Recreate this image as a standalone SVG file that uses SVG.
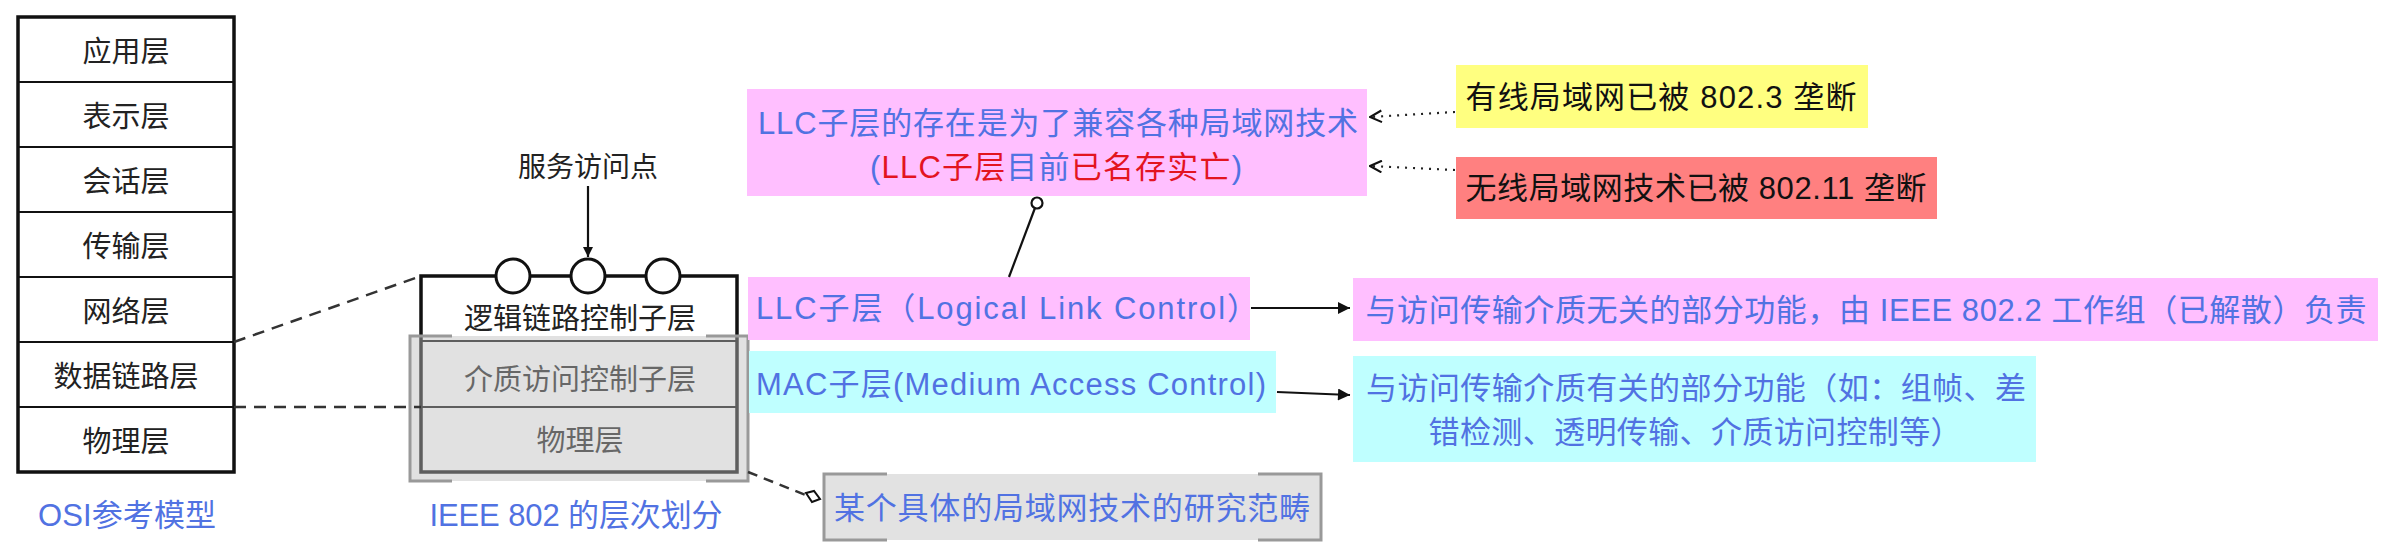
<svg xmlns="http://www.w3.org/2000/svg" width="2399" height="550" viewBox="0 0 2399 550">
<style>
text{font-family:"Liberation Sans","Noto Sans CJK SC",sans-serif;dominant-baseline:central;text-anchor:middle}
.osi{font-size:29px;fill:#222;font-family:"Noto Sans CJK SC",sans-serif}
.blue{fill:#5172e2}
.red{fill:#e3141f}
.blk{fill:#111}
.t31{font-size:31px}
.cell{fill:none;stroke:#111;stroke-width:2}
.dash{fill:none;stroke:#333;stroke-width:2.5;stroke-dasharray:12 8}
.dot{fill:none;stroke:#222;stroke-width:2.2;stroke-dasharray:2 6}
.solid{fill:none;stroke:#111;stroke-width:2.2}
.bracket{fill:none;stroke:#999;stroke-width:3}
</style>
<defs>
<marker id="fa" viewBox="0 0 10 10" refX="10" refY="5" markerWidth="16" markerHeight="12" markerUnits="userSpaceOnUse" orient="auto"><path d="M0,0 L10,5 L0,10 z" fill="#111"/></marker>
<marker id="fn" viewBox="0 0 10 10" refX="10" refY="5" markerWidth="20" markerHeight="10" markerUnits="userSpaceOnUse" orient="auto"><path d="M0,0 L10,5 L0,10 z" fill="#111"/></marker>
<marker id="oa" viewBox="0 0 12 12" refX="11" refY="6" markerWidth="14" markerHeight="14" markerUnits="userSpaceOnUse" orient="auto"><path d="M1,1 L11,6 L1,11" fill="none" stroke="#111" stroke-width="1.8"/></marker>
</defs>

<g id="osi">
<rect x="18" y="17" width="216" height="455" fill="#fff" stroke="#111" stroke-width="3.5"/>
<line class="cell" x1="18" y1="82" x2="234" y2="82"/>
<line class="cell" x1="18" y1="147" x2="234" y2="147"/>
<line class="cell" x1="18" y1="212" x2="234" y2="212"/>
<line class="cell" x1="18" y1="277" x2="234" y2="277"/>
<line class="cell" x1="18" y1="342" x2="234" y2="342"/>
<line class="cell" x1="18" y1="407" x2="234" y2="407"/>
<text class="osi" x="126" y="49">应用层</text>
<text class="osi" x="126" y="114">表示层</text>
<text class="osi" x="126" y="179">会话层</text>
<text class="osi" x="126" y="244">传输层</text>
<text class="osi" x="126" y="309">网络层</text>
<text class="osi" x="126" y="374">数据链路层</text>
<text class="osi" x="126" y="439">物理层</text>
</g>
<g id="osi-label"><text class="blue" x="127" y="515" style="font-size:31px" textLength="178" lengthAdjust="spacing">OSI参考模型</text></g>

<g id="ieee802">
<rect x="421" y="276" width="316" height="196" fill="#fff" stroke="#111" stroke-width="3.5"/>
<line class="cell" x1="421" y1="341" x2="737" y2="341"/>
<line class="cell" x1="421" y1="407" x2="737" y2="407"/>
<circle cx="513" cy="276" r="17" fill="#fff" stroke="#111" stroke-width="3"/>
<circle cx="588" cy="276" r="17" fill="#fff" stroke="#111" stroke-width="3"/>
<circle cx="663" cy="276" r="17" fill="#fff" stroke="#111" stroke-width="3"/>
<text class="osi" x="580" y="316">逻辑链路控制子层</text>
<text class="osi" x="580" y="377">介质访问控制子层</text>
<text class="osi" x="580" y="438">物理层</text>
<rect x="410" y="336" width="338" height="145" fill="#bdbdbd" fill-opacity="0.45"/>
<path class="bracket" d="M452,336 H410 V481 H452 M706,336 H748 V481 H706"/>
</g>
<g id="sap-label"><text class="osi" x="588" y="165" style="font-size:28px">服务访问点</text></g>
<g id="ieee-label"><text class="blue" x="576" y="515" style="font-size:31px" textLength="293" lengthAdjust="spacing">IEEE 802 的层次划分</text></g>

<g id="note-llc-exist">
<rect x="747" y="89" width="620" height="107" fill="#ffbfff"/>
<text class="blue t31" x="1058" y="123" textLength="600" lengthAdjust="spacing">LLC子层的存在是为了兼容各种局域网技术</text>
<text class="t31" x="1056" y="167" textLength="372" lengthAdjust="spacing"><tspan class="blue">(</tspan><tspan class="red">LLC子层</tspan><tspan class="blue">目前</tspan><tspan class="red">已名存实亡</tspan><tspan class="blue">)</tspan></text>
</g>

<g id="note-wired">
<rect x="1456" y="65" width="412" height="63" fill="#ffff80"/>
<text class="blk t31" x="1661" y="97" textLength="391" lengthAdjust="spacing">有线局域网已被 802.3 垄断</text>
</g>
<g id="note-wireless">
<rect x="1456" y="157" width="481" height="62" fill="#ff8080"/>
<text class="blk t31" x="1696" y="188" textLength="461" lengthAdjust="spacing">无线局域网技术已被 802.11 垄断</text>
</g>

<g id="llc">
<rect x="748" y="277" width="502" height="63" fill="#ffbfff"/>
<text class="blue t31" x="756" y="308" style="text-anchor:start" textLength="502" lengthAdjust="spacing">LLC子层（Logical Link Control）</text>
</g>
<g id="mac">
<rect x="749" y="351" width="527" height="62" fill="#bfffff"/>
<text class="blue t31" x="756" y="384" style="text-anchor:start" textLength="510" lengthAdjust="spacing">MAC子层(Medium Access Control)</text>
</g>

<g id="llc-func">
<rect x="1353" y="278" width="1025" height="63" fill="#ffbfff"/>
<text class="blue t31" x="1866" y="310" textLength="1001" lengthAdjust="spacing">与访问传输介质无关的部分功能，由 IEEE 802.2 工作组（已解散）负责</text>
</g>
<g id="mac-func">
<rect x="1353" y="356" width="683" height="106" fill="#bfffff"/>
<text class="blue t31" x="1696" y="388" textLength="660" lengthAdjust="spacing">与访问传输介质有关的部分功能（如：组帧、差</text>
<text class="blue t31" x="1695" y="432" textLength="533" lengthAdjust="spacing">错检测、透明传输、介质访问控制等）</text>
</g>

<g id="scope-note">
<rect x="824" y="474" width="497" height="66" fill="#e2e2e2"/>
<path class="bracket" d="M887,474 H824 V540 H887 M1258,474 H1321 V540 H1258"/>
<text class="blue t31" x="1072" y="508" textLength="476" lengthAdjust="spacing">某个具体的局域网技术的研究范畴</text>
</g>

<g id="connectors">
<line class="dash" x1="234" y1="342" x2="421" y2="276"/>
<line class="dash" x1="234" y1="407" x2="421" y2="407"/>
<line class="solid" x1="588" y1="186" x2="588" y2="257" marker-end="url(#fn)"/>
<line class="solid" x1="1009" y1="277" x2="1035" y2="208"/>
<circle cx="1037" cy="203" r="5.5" fill="#fff" stroke="#111" stroke-width="2.2"/>
<line class="dot" x1="1455" y1="112" x2="1370" y2="117" marker-end="url(#oa)"/>
<line class="dot" x1="1455" y1="170" x2="1370" y2="166" marker-end="url(#oa)"/>
<line class="solid" x1="1251" y1="308" x2="1350" y2="308" marker-end="url(#fa)"/>
<line class="solid" x1="1277" y1="392" x2="1350" y2="395" marker-end="url(#fa)"/>
<line class="dash" x1="748" y1="472" x2="808" y2="496" style="stroke-dasharray:10 7"/>
<path d="M806,493 L814,491 L820,499 L812,502 z" fill="#fff" stroke="#111" stroke-width="2"/>
</g>
</svg>
